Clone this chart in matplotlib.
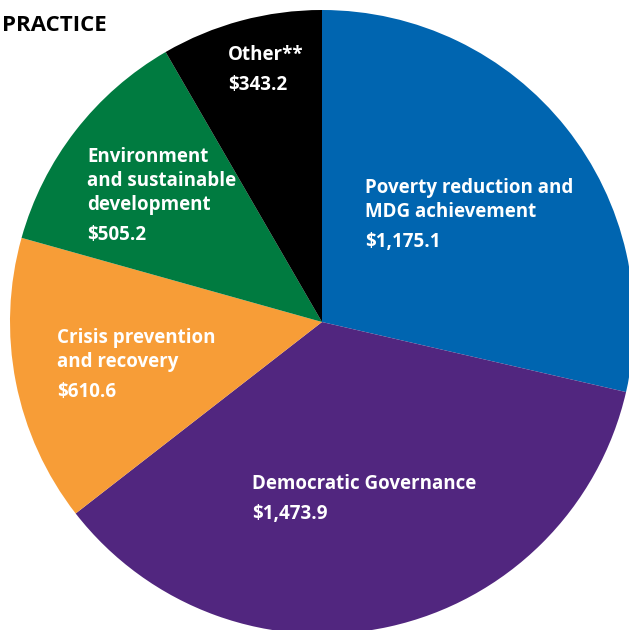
import matplotlib
matplotlib.use("Agg")
import matplotlib.pyplot as plt

# Practice areas (millions USD), clockwise from the top
labels = ["Poverty reduction and\nMDG achievement", "Democratic Governance",
          "Crisis prevention\nand recovery", "Environment\nand sustainable\ndevelopment", "Other**"]
values = [1175.1, 1473.9, 610.6, 505.2, 343.2]
colors = ["#0065b0", "#51267f", "#f79d37", "#007b40", "#000000"]

# text anchor (left x, baseline y of first line) in pixels from top-left
label_pos = [(365, 193), (252, 489), (57, 343), (87, 162), (228, 60)]

W, H = 629, 630
fig = plt.figure(figsize=(W / 100, H / 100), dpi=100)
ax = fig.add_axes([0, 0, 1, 1])

cx, cy, r = 322, H - 322, 312
ax.pie(values, colors=colors, startangle=90, counterclock=False,
       center=(cx, cy), radius=r, wedgeprops=dict(linewidth=0))
ax.set_xlim(0, W)
ax.set_ylim(0, H)
ax.set_aspect('equal')
ax.axis('off')

font = dict(family="Open Sans", weight="bold", fontsize=13.5, color="white")
line_h = 24
for lab, val, (x, y) in zip(labels, values, label_pos):
    lines = lab.split("\n")
    for i, ln in enumerate(lines):
        ax.text(x, H - (y + i * line_h), ln, ha='left', va='baseline', **font)
    # value line sits a bit lower
    ax.text(x, H - (y + (len(lines) - 1) * line_h + 30), f"${val:,.1f}",
            ha='left', va='baseline', **font)

ax.text(2, H - 31, "PRACTICE", ha='left', va='baseline', family="Open Sans",
        weight="bold", fontsize=16, color="black")

fig.savefig("out.png", dpi=100)
